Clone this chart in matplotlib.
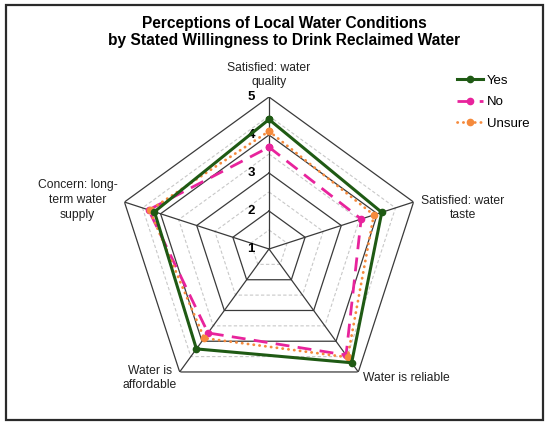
import numpy as np
import matplotlib
matplotlib.use("Agg")
import matplotlib.pyplot as plt
from matplotlib.patches import Rectangle

plt.rcParams['font.family'] = ['Liberation Sans', 'DejaVu Sans']

# axes, clockwise from the top
categories = ["Satisfied: water\nquality", "Satisfied: water\ntaste", "Water is reliable",
              "Water is\naffordable", "Concern: long-\nterm water\nsupply"]
yes_vals = [4.41, 4.12, 4.70, 4.25, 4.17]
no_vals = [3.68, 3.55, 4.45, 3.73, 4.33]
unsure_vals = [4.10, 3.90, 4.52, 3.90, 4.30]
scale_labels = [1, 2, 3, 4, 5]

# label offsets (pixels) from each outer vertex
label_offsets = [(0, 22), (49, -6), (48, -6), (-30, -6), (-47, 2)]

W, H = 550, 426
fig = plt.figure(figsize=(W / 100, H / 100), dpi=100)

cx, cy, R = 269, 249, 152
ax = fig.add_axes([(cx - R) / W, (H - cy - R) / H, 2 * R / W, 2 * R / H], projection='polar')
ax.set_theta_offset(np.pi / 2)
ax.set_theta_direction(-1)
ax.set_ylim(1, 5)
ax.grid(False)
ax.set_xticks([])
ax.set_yticks([])
ax.spines['polar'].set_visible(False)
ax.patch.set_alpha(0)

n = len(categories)
angles = np.linspace(0, 2 * np.pi, n, endpoint=False)
closed = np.append(angles, angles[0])

# grid: light dashed at the halves, dark solid at whole numbers
for lev in [1.5, 2.5, 3.5, 4.5]:
    ax.plot(closed, [lev] * (n + 1), color='#c8c8c8', lw=0.8, ls=(0, (3, 2)), zorder=1)
for lev in [2, 3, 4, 5]:
    ax.plot(closed, [lev] * (n + 1), color='#3a3a3a', lw=0.9, zorder=2)
for a in angles:
    ax.plot([a, a], [1, 5], color='#3a3a3a', lw=0.9, zorder=2)


def close(v):
    return list(v) + [v[0]]


ax.plot(closed, close(yes_vals), color='#1f5a14', lw=2.2, marker='o', ms=4.5, label='Yes', zorder=5)
ax.plot(closed, close(no_vals), color='#e8239c', lw=2.0, ls=(0, (5, 3)), marker='o', ms=4.5,
        label='No', zorder=4)
ax.plot(closed, close(unsure_vals), color='#f58a3c', lw=2.0, ls=(0, (0.1, 2.0)),
        dash_capstyle='round', marker='o', ms=4.5, label='Unsure', zorder=4)

for a, lab, off in zip(angles, categories, label_offsets):
    ax.annotate(lab, xy=(a, 5), xytext=off, textcoords='offset pixels',
                ha='center', va='center', fontsize=8.7, color='#222222',
                linespacing=1.3, annotation_clip=False)

for v in scale_labels:
    ax.annotate(str(v), xy=(0, v), xytext=(-18, 0), textcoords='offset pixels',
                ha='center', va='center', fontsize=9.5, fontweight='bold',
                annotation_clip=False)

fig.text(284 / W, 1 - 32 / H,
         "Perceptions of Local Water Conditions\nby Stated Willingness to Drink Reclaimed Water",
         ha='center', va='center', fontsize=11.2, fontweight='bold', linespacing=1.2)

fig.legend(loc='upper left', bbox_to_anchor=(445 / W, 1 - 63 / H), frameon=False,
           fontsize=9.5, handlelength=2.0, handletextpad=0.3, labelspacing=0.68)

fig.add_artist(Rectangle((6 / W, 6 / H), 537 / W, 415 / H, transform=fig.transFigure,
                         fill=False, edgecolor='#2a2a2a', lw=1.6))

fig.savefig('out.png', dpi=100)
